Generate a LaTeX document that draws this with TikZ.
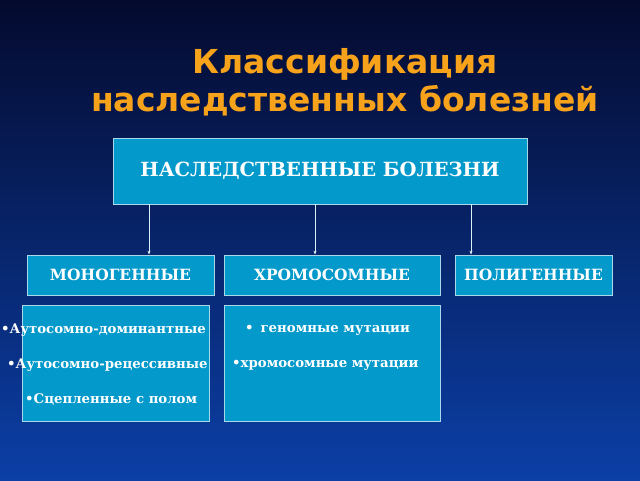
\documentclass[tikz,border=0pt]{standalone}
\usepackage{fontspec}
\setmainfont{DejaVu Serif}
\newfontfamily\titlefont{DejaVu Sans}
\usetikzlibrary{positioning,arrows.meta}
\definecolor{bgtop}{HTML}{040A2E}
\definecolor{bgbot}{HTML}{0B3FA6}
\definecolor{boxfill}{HTML}{0399CB}
\definecolor{boxline}{HTML}{A8D8EA}
\definecolor{titleor}{HTML}{F7A21B}
\tikzset{
  classbox/.style={rectangle,draw=boxline,fill=boxfill,line width=0.8pt,text=white,font=\bfseries},
  itemtext/.style={text=white,font=\bfseries\fontsize{13.3}{15}\selectfont,anchor=west,inner sep=1pt},
  link/.style={draw=white!85!boxfill,line width=0.6pt,-{Stealth[length=4pt,width=3pt]}}
}
\begin{document}
\begin{tikzpicture}[x=1pt,y=-1pt]
  \shade[top color=bgtop,bottom color=bgbot] (0,0) rectangle (640,480);
  \useasboundingbox (0,0) rectangle (640,480);

  % title
  \node[text=titleor,font=\titlefont\bfseries\fontsize{33}{38}\selectfont,align=center] (title) at (345,82)
    {Классификация\\наследственных болезней};

  % top level
  \node[classbox,minimum width=414pt,minimum height=66pt,font=\bfseries\fontsize{19.5}{22}\selectfont] (top) at (320,171) {НАСЛЕДСТВЕННЫЕ БОЛЕЗНИ};

  % groups
  \node[classbox,minimum width=187pt,minimum height=40pt,font=\bfseries\fontsize{15.5}{18}\selectfont] (mono) at (120.5,275) {МОНОГЕННЫЕ};
  \node[classbox,minimum width=216pt,minimum height=40pt,font=\bfseries\fontsize{15.5}{18}\selectfont] (chromo) at (332,275) {ХРОМОСОМНЫЕ};
  \node[classbox,minimum width=157pt,minimum height=40pt,inner sep=0pt,font=\bfseries\fontsize{15.5}{18}\selectfont] (poly) at (533.5,275) {ПОЛИГЕННЫЕ};

  \coordinate (m0) at (149,204);
  \coordinate (c0) at (315,204);
  \coordinate (p0) at (471,204);
  \draw[link] (m0) -- (m0 |- mono.north);
  \draw[link] (c0) -- (c0 |- chromo.north);
  \draw[link] (p0) -- (p0 |- poly.north);

  % details
  \node[classbox,minimum width=187pt,minimum height=116pt] (monolist) at (115.5,363) {};
  \node[classbox,minimum width=216pt,minimum height=116pt] (chromolist) at (332,363) {};

  \node[itemtext] (m1) at (0,330) {•Аутосомно-доминантные};
  \node[itemtext] (m2) at (6,365) {•Аутосомно-рецессивные};
  \node[itemtext] (m3) at (24,399) {•Сцепленные с полом};
  \node[itemtext] (c1) at (244,330) {• \,геномные мутации};
  \node[itemtext] (c2) at (231,365) {•хромосомные мутации};
\end{tikzpicture}
\end{document}
